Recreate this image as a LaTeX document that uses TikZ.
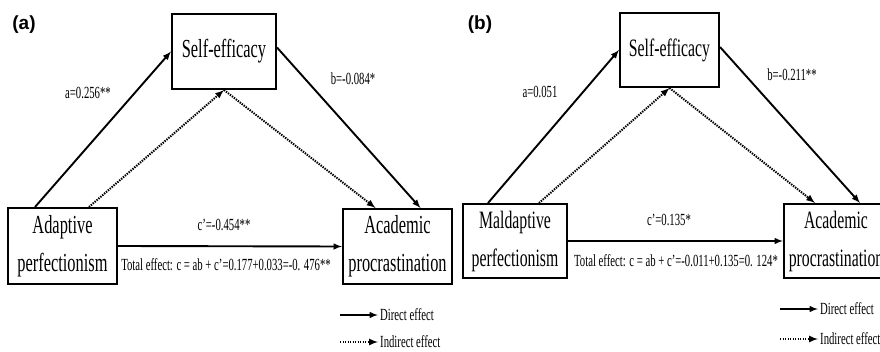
\documentclass[tikz,border=0pt]{standalone}
\usepackage{fontspec}
\newfontfamily\figfont[FakeStretch=0.63]{Liberation Serif}
\newfontfamily\tagfont{Liberation Sans}
\begin{document}
\begin{tikzpicture}[x=1pt,y=-1pt,
  box/.style={draw,line width=2pt,align=center,inner sep=0pt,font=\figfont\fontsize{#1}{38}\selectfont},
  box/.default=26,
  lbl/.style={font=\figfont\fontsize{17}{20}\selectfont},
  tag/.style={font=\tagfont\bfseries\fontsize{19}{22}\selectfont},
  direct/.style={line width=1.9pt,-latex},
  indirect/.style={line width=2pt,dash pattern=on 1.4pt off 1.1pt,-latex}]
\useasboundingbox(0,0)rectangle(880,352);
% panel (a)
\node[tag](pa)at(24,25){(a)};
\node[box,minimum width=104pt,minimum height=75pt](se1)at(224,51.5){Self-efficacy};
\node[box,minimum width=109pt,minimum height=76pt](ad1)at(62.5,246){Adaptive\\perfectionism};
\node[box,minimum width=109pt,minimum height=75pt](ac1)at(397.5,246.5){Academic\\procrastination};
\draw[direct]([xshift=28pt]ad1.north west)--(se1.west);
\draw[direct]([yshift=4pt]se1.east)--([xshift=23pt]ac1.north);
\draw[indirect]([xshift=82pt]ad1.north west)--(se1.south);
\draw[indirect](se1.south)--([xshift=-22pt]ac1.north);
\draw[direct](ad1.east)--(ac1.west);
\node[lbl](la1)at(88,93){a=0.256**};
\node[lbl](lb1)at(353,79){b=-0.084*};
\node[lbl](lc1)at(224,225){c’=-0.454**};
\node[lbl](lt1)at(226,265){Total effect: c = ab + c’=0.177+0.033=-0. 476**};
\coordinate(d1)at(340,315);
\coordinate(i1)at(340,342);
\node[lbl,anchor=west,inner sep=2pt](dt1)at(378,315){Direct effect};
\node[lbl,anchor=west,inner sep=2pt](it1)at(378,342){Indirect effect};
\draw[direct](d1)--(dt1.west);
\draw[indirect](i1)--(it1.west);
% panel (b)
\node[tag](pb)at(480,25){(b)};
\node[box=25,minimum width=99pt,minimum height=74pt](se2)at(669.5,50){Self-efficacy};
\node[box=25,minimum width=104pt,minimum height=74pt](ad2)at(515,241){Maldaptive\\perfectionism};
\node[box=25,minimum width=104pt,minimum height=74pt](ac2)at(836,241){Academic\\procrastination};
\draw[direct]([xshift=26pt]ad2.north west)--(se2.west);
\draw[direct]([yshift=3pt]se2.east)--([xshift=24pt]ac2.north);
\draw[indirect]([xshift=77pt]ad2.north west)--(se2.south);
\draw[indirect](se2.south)--([xshift=-21pt]ac2.north);
\draw[direct](ad2.east)--(ac2.west);
\node[lbl](la2)at(540,92){a=0.051};
\node[lbl](lb2)at(792,75){b=-0.211**};
\node[lbl](lc2)at(669,220){c’=0.135*};
\node[lbl](lt2)at(676,261){Total effect: c = ab + c’=-0.011+0.135=0. 124*};
\coordinate(d2)at(780,309);
\coordinate(i2)at(780,339);
\node[lbl,anchor=west,inner sep=2pt](dt2)at(818,309){Direct effect};
\node[lbl,anchor=west,inner sep=2pt](it2)at(818,339){Indirect effect};
\draw[direct](d2)--(dt2.west);
\draw[indirect](i2)--(it2.west);
\end{tikzpicture}
\end{document}
